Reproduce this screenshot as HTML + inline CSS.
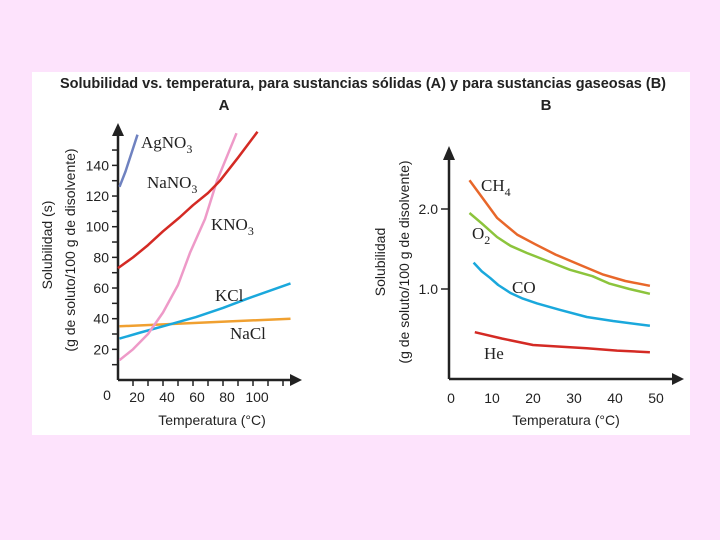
<!DOCTYPE html>
<html><head><meta charset="utf-8"><style>
body{margin:0;background:#fde3fc;}
svg{display:block;}
.ax{font-family:"Liberation Sans",sans-serif;font-size:14px;fill:#222;}
.lb{font-family:"Liberation Serif",serif;font-size:17px;fill:#222;}
</style></head><body>
<svg width="720" height="540">
<rect x="0" y="0" width="720" height="540" fill="#fde3fc"/>
<rect x="32" y="72" width="658" height="363" fill="#fff"/>
<text x="363" y="88" text-anchor="middle" font-family="Liberation Sans,sans-serif" font-weight="bold" font-size="14.5" fill="#222">Solubilidad vs. temperatura, para sustancias sólidas (A) y para sustancias gaseosas (B)</text>
<text x="224" y="110" text-anchor="middle" font-family="Liberation Sans,sans-serif" font-weight="bold" font-size="15" fill="#222">A</text>
<text x="546" y="110" text-anchor="middle" font-family="Liberation Sans,sans-serif" font-weight="bold" font-size="15" fill="#222">B</text>
<g id="A"></g><g id="B"></g>
</svg>
<script>
// Panel A data
const aYTicks=[20,40,60,80,100,120,140];
const aXTicks=[20,40,60,80,100];
const agT=[11,15,19,23], agV=[126,136,148,160];
const naNO3T=[10,20,30,40,51,60,70,78,90,103], naNO3V=[73,80,88,97,106,114,122,130,145,162];
const kno3T=[11,20,30,40,50,58,68,76,89], kno3V=[13,20,30,44,62,83,105,130,161];
const kclT=[11,25,40,62,80,96,125], kclV=[27,31,35,41,47,53,63];
const naclT=[11,125], naclV=[35,40];
// Panel B data
const bYTicks=[1.0,2.0];
const bXTicks=[0,10,20,30,40,50];
const ch4T=[5,8,11.7,16.6,21,26,32,37.6,43,49], ch4V=[2.36,2.15,1.89,1.68,1.56,1.43,1.30,1.18,1.1,1.04];
const o2T=[5,8,11.7,15,19,24,29.5,35,39,44,49], o2V=[1.95,1.82,1.65,1.54,1.45,1.35,1.24,1.16,1.07,1.0,0.94];
const coT=[6,8,10,12,15,18,21.5,27,33.6,40,49], coV=[1.33,1.22,1.14,1.05,0.95,0.88,0.82,0.74,0.65,0.6,0.54];
const heT=[6.3,13,20.5,27,33.6,41,49], heV=[0.46,0.38,0.30,0.28,0.26,0.23,0.21];

const NS="http://www.w3.org/2000/svg";
function mk(p,tag,at,txt){const e=document.createElementNS(NS,tag);for(const k in at)e.setAttribute(k,at[k]);if(txt!=null)e.textContent=txt;p.appendChild(e);return e;}
function path(xs,ys,fx,fy){return xs.map((t,i)=>(i?'L':'M')+fx(t).toFixed(1)+','+fy(ys[i]).toFixed(1)).join(' ');}

// ---- A
const A=document.getElementById('A');
const ax=t=>103+1.5*t, ay=v=>380-1.533*v;
let e;
e=mk(A,'path',{d:'M118,380 L118,130 M118,380 L294,380',stroke:'#222','stroke-width':2.5,fill:'none'});

e=mk(A,'path',{d:'M112,136 L118,123 L124,136 Z M290,374 L302,380 L290,386 Z',fill:'#222'});

for(let v=10;v<=150;v+=10){e=mk(A,'line',{x1:112,x2:118,y1:ay(v),y2:ay(v),stroke:'#222','stroke-width':1.5});
}
for(let t=20;t<=120;t+=10){e=mk(A,'line',{x1:ax(t),x2:ax(t),y1:380,y2:386,stroke:'#222','stroke-width':1.5});
}
aYTicks.forEach(v=>{e=mk(A,'text',{x:109,y:ay(v)+5,'text-anchor':'end',class:'ax'},v);
});
aXTicks.forEach(t=>{e=mk(A,'text',{x:ax(t)+4,y:402,'text-anchor':'middle',class:'ax'},t);
});
e=mk(A,'text',{x:107,y:400,'text-anchor':'middle',class:'ax'},'0');

e=mk(A,'text',{x:212,y:425,'text-anchor':'middle',class:'ax'},'Temperatura (°C)');

e=mk(A,'text',{x:0,y:0,'text-anchor':'middle',class:'ax',transform:'translate(52,245) rotate(-90)'},'Solubilidad (s)');

e=mk(A,'text',{x:0,y:0,'text-anchor':'middle',class:'ax',transform:'translate(75,250) rotate(-90)'},'(g de soluto/100 g de disolvente)');

[[agT,agV,'#6f82c0','agno3-line'],[naclT,naclV,'#f0a030','nacl-line'],[kclT,kclV,'#1aa8dc','kcl-line'],[kno3T,kno3V,'#ee9ac8','kno3-line'],[naNO3T,naNO3V,'#d42a24','nano3-line']].forEach(s=>{
e=mk(A,'path',{d:path(s[0],s[1],ax,ay),stroke:s[2],'stroke-width':2.5,fill:'none','stroke-linejoin':'round'});
});
function chem(p,x,y,base,sub,name){const t=mk(p,'text',{x:x,y:y,class:'lb'},base);
if(sub){mk(t,'tspan',{dy:5,'font-size':12},sub);}
}
chem(A,141,148,'AgNO','3','agno3-label');
chem(A,147,188,'NaNO','3','nano3-label');
chem(A,211,230,'KNO','3','kno3-label');
chem(A,215,301,'KCl',null,'kcl-label');
chem(A,230,339,'NaCl',null,'nacl-label');

// ---- B
const B=document.getElementById('B');
const bx=t=>449+4.1*t, by=v=>369-80*v;
e=mk(B,'path',{d:'M449,379 L449,152 M449,379 L676,379',stroke:'#222','stroke-width':2.5,fill:'none'});

e=mk(B,'path',{d:'M443,160 L449,146 L455,160 Z M672,373 L684,379 L672,385 Z',fill:'#222'});

bYTicks.forEach(v=>{e=mk(B,'line',{x1:441,x2:449,y1:by(v),y2:by(v),stroke:'#222','stroke-width':1.5});

e=mk(B,'text',{x:438,y:by(v)+5,'text-anchor':'end',class:'ax'},v.toFixed(1));
});
bXTicks.forEach(t=>{e=mk(B,'text',{x:bx(t)+2,y:403,'text-anchor':'middle',class:'ax'},t);
});
e=mk(B,'text',{x:566,y:425,'text-anchor':'middle',class:'ax'},'Temperatura (°C)');

e=mk(B,'text',{x:0,y:0,'text-anchor':'middle',class:'ax',transform:'translate(385,262) rotate(-90)'},'Solubilidad');

e=mk(B,'text',{x:0,y:0,'text-anchor':'middle',class:'ax',transform:'translate(409,262) rotate(-90)'},'(g de soluto/100 g de disolvente)');

[[ch4T,ch4V,'#e8672a','ch4-line'],[o2T,o2V,'#8cc43c','o2-line'],[coT,coV,'#1aa8dc','co-line'],[heT,heV,'#d42a24','he-line']].forEach(s=>{
e=mk(B,'path',{d:path(s[0],s[1],bx,by),stroke:s[2],'stroke-width':2.5,fill:'none','stroke-linejoin':'round'});
});
chem(B,481,191,'CH','4','ch4-label');
chem(B,472,239,'O','2','o2-label');
chem(B,512,293,'CO',null,'co-label');
chem(B,484,359,'He',null,'he-label');
</script>
</body></html>
